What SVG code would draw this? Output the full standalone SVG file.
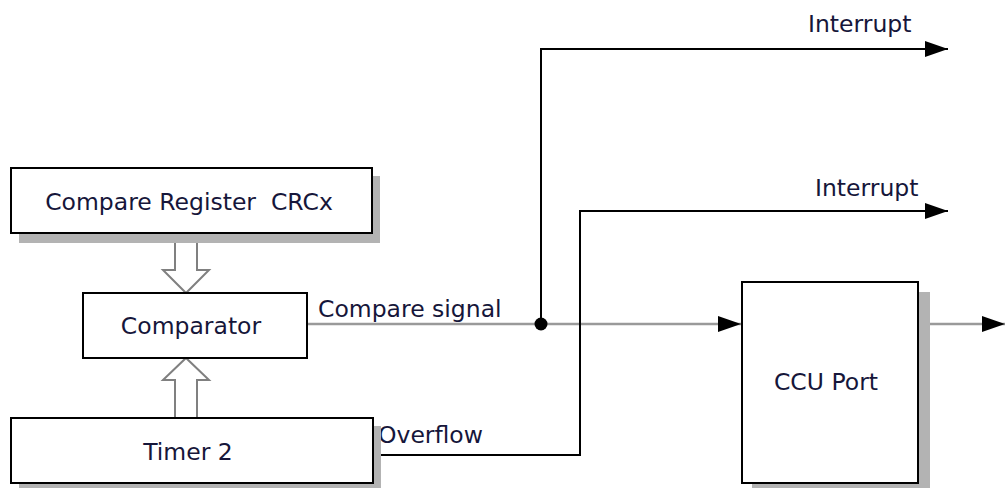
<svg xmlns="http://www.w3.org/2000/svg" width="1005" height="488" viewBox="0 0 1005 488">
<style>
.box{fill:#fff;stroke:#000;stroke-width:2}
.sh{fill:#b3b3b3}
.t{font-family:"DejaVu Sans",Verdana,sans-serif;font-size:23.5px;fill:#16163a}
.wire{fill:none;stroke:#000;stroke-width:2}
.sig{fill:none;stroke:#9a9a9a;stroke-width:2.5}
.hollow{fill:#fff;stroke:#808080;stroke-width:2}
</style>
<defs>
<marker id="ah" markerUnits="userSpaceOnUse" markerWidth="24" markerHeight="16" refX="23" refY="8" orient="auto">
<path d="M0,0 L23,8 L0,16 Z" fill="#000"/>
</marker>
</defs>
<rect width="1005" height="488" fill="#fff"/>
<g id="connectors">
<polyline class="sig" points="307,324 741,324" marker-end="url(#ah)"/>
<polyline class="sig" points="930,324 1005,324" marker-end="url(#ah)"/>
<polyline class="wire" points="541,324 541,49 948,49" marker-end="url(#ah)"/>
<polyline class="wire" points="373,455 580,455 580,211 948,211" marker-end="url(#ah)"/>
<circle cx="541" cy="324" r="6.5" fill="#000"/>
<path class="hollow" d="M175,234 L197,234 L197,270 L209,270 L186,293 L163,270 L175,270 Z"/>
<path class="hollow" d="M175,418 L197,418 L197,380 L209,380 L186,358 L163,380 L175,380 Z"/>
<text class="t" x="318" y="317">Compare signal</text>
<text class="t" x="378" y="443">Overflow</text>
<text class="t" x="808" y="32">Interrupt</text>
<text class="t" x="815" y="196">Interrupt</text>
</g>
<g id="compare-register">
<rect class="sh" x="19" y="176" width="361" height="67"/>
<rect class="box" x="11" y="168" width="361" height="65"/>
<text class="t" x="189" y="210" text-anchor="middle" xml:space="preserve">Compare Register  CRCx</text>
</g>
<g id="comparator">
<rect class="box" x="83" y="293" width="224" height="65"/>
<text class="t" x="191" y="334" text-anchor="middle">Comparator</text>
</g>
<g id="timer2">
<rect class="sh" x="19" y="426" width="362" height="67"/>
<rect class="box" x="11" y="418" width="362" height="65"/>
<text class="t" x="188" y="460" text-anchor="middle">Timer 2</text>
</g>
<g id="ccu-port">
<rect class="sh" x="752" y="292" width="178" height="201"/>
<rect class="box" x="742" y="282" width="176" height="201"/>
<text class="t" x="826" y="390" text-anchor="middle">CCU Port</text>
</g>
</svg>
